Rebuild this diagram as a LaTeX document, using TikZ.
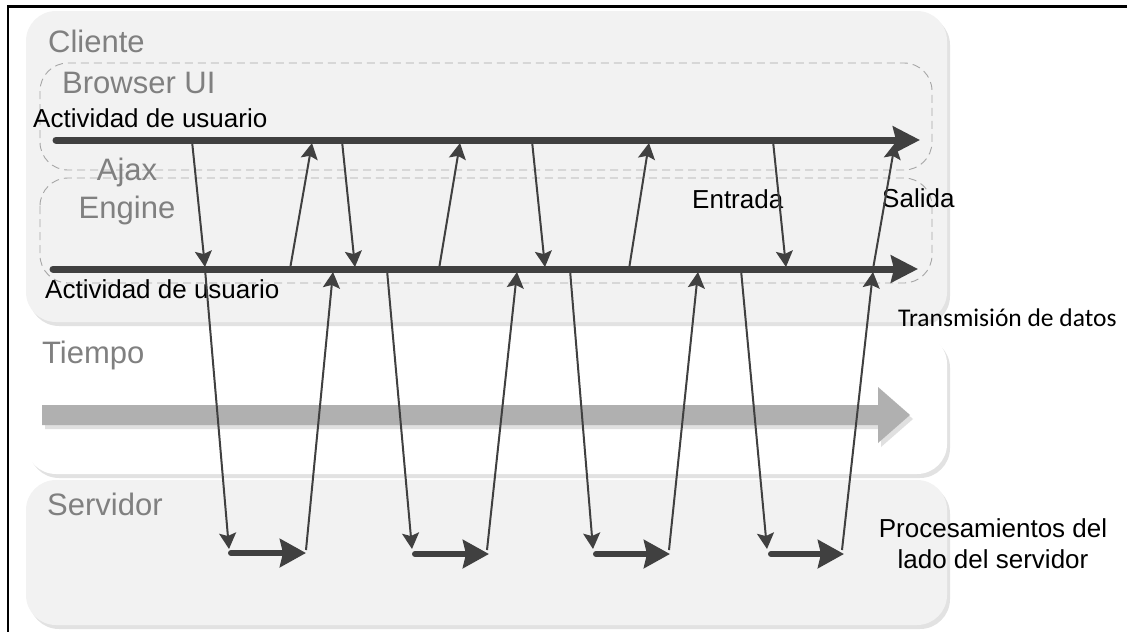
\documentclass[tikz,border=0pt]{standalone}
\usepackage{fontspec}
\setmainfont{Liberation Sans}
\newfontfamily\calibrifont{Carlito}
\usetikzlibrary{arrows.meta}
\definecolor{ink}{HTML}{404040}
\definecolor{panel}{HTML}{F2F2F2}
\definecolor{panelshadow}{HTML}{E2E2E2}
\definecolor{labelgray}{HTML}{808080}
\definecolor{dashgray}{HTML}{A6A6A6}
\definecolor{timegray}{HTML}{B0B0B0}
\definecolor{timeshadow}{HTML}{E0E0E0}

\begin{document}
\begin{tikzpicture}[x=1pt,y=-1pt,
  panelshade/.style={fill=panelshadow, rounded corners=30pt},
  panelbox/.style={fill=#1, rounded corners=30pt},
  layerbox/.style={draw=dashgray, line width=0.9pt, dash pattern=on 8pt off 5pt, rounded corners=28pt},
  grouplabel/.style={anchor=base west, inner sep=0pt, text=labelgray, font=\fontsize{31}{36}\selectfont},
  note/.style={inner sep=0pt, text=black, font=\fontsize{26}{30}\selectfont},
  flowline/.style={draw=ink, line width=7pt, line cap=round, -{Stealth[length=27pt,width=27pt,inset=3pt]}},
  msg/.style={draw=ink, line width=2pt, -{Stealth[length=16pt,width=17pt,inset=3pt]}},
  work/.style={draw=ink, line width=6pt, line cap=round, -{Stealth[length=26pt,width=28pt,inset=3pt]}}
]
\useasboundingbox (0,0) rectangle (1131,632);

% outer frame (top and left edges)
\draw[line width=2.5pt] (1127,6.5) -- (8,6.5) -- (8,632);

% swimlane panels with soft drop shadows
\path[panelshade] (29,15) rectangle (950,326);
\path[panelbox=panel] (26,11) rectangle (947,322);
\path[panelshade] (29,338) rectangle (950,478);
\path[panelbox=white] (26,334) rectangle (947,474);
\path[panelshade] (29,484) rectangle (950,629);
\path[panelbox=panel] (26,480) rectangle (947,625);

% client layers
\path[layerbox] (40,63) rectangle (932,170);
\path[layerbox] (40,178) rectangle (932,283);

% lane titles
\node[grouplabel] (cliente) at (48,52) {Cliente};
\node[grouplabel] (browser) at (62,93) {Browser UI};
\node[grouplabel, anchor=base] (ajax) at (127,180) {Ajax};
\node[grouplabel, anchor=base] (engine) at (127,218) {Engine};
\node[grouplabel] (tiempo) at (42,363) {Tiempo};
\node[grouplabel] (servidor) at (47,515) {Servidor};

% annotations
\node[note, anchor=base west] (actA) at (33,127) {Actividad de usuario};
\node[note, anchor=base west] (actB) at (45,298) {Actividad de usuario};
\node[note, anchor=base west] (entrada) at (692,208) {Entrada};
\node[note, anchor=base west] (salida) at (882,207) {Salida};
\node[inner sep=0pt, anchor=base west, font=\calibrifont\fontsize{25.5}{30}\selectfont] (trans) at (898,326) {Transmisión de datos};
\node[note, anchor=base] (proc1) at (993,537) {Procesamientos del};
\node[note, anchor=base] (proc2) at (993,568) {lado del servidor};

% time axis
\fill[timeshadow] (45,409) -- (881,409) -- (881,391) -- (913,419) -- (881,447) -- (881,429) -- (45,429) -- cycle;
\fill[timegray] (42,405) -- (878,405) -- (878,387) -- (910,415) -- (878,443) -- (878,425) -- (42,425) -- cycle;

% timelines of the two client layers
\coordinate (uiS) at (56,140);
\coordinate (uiE) at (920,140);
\coordinate (ajS) at (53,269);
\coordinate (ajE) at (918,269);
\draw[flowline] (uiS) -- (uiE);
\draw[flowline] (ajS) -- (ajE);

% UI -> engine
\coordinate (d1a) at (192,141); \coordinate (d1b) at (205,267);
\coordinate (d2a) at (342,141); \coordinate (d2b) at (355,267);
\coordinate (d3a) at (532,141); \coordinate (d3b) at (545,267);
\coordinate (d4a) at (773,141); \coordinate (d4b) at (786,267);
\draw[msg] (d1a) -- (d1b);
\draw[msg] (d2a) -- (d2b);
\draw[msg] (d3a) -- (d3b);
\draw[msg] (d4a) -- (d4b);

% engine -> UI
\coordinate (u1a) at (290,269); \coordinate (u1b) at (312,143);
\coordinate (u2a) at (439,269); \coordinate (u2b) at (460,143);
\coordinate (u3a) at (629,269); \coordinate (u3b) at (649,143);
\coordinate (u4a) at (873,269); \coordinate (u4b) at (895,143);
\draw[msg] (u1a) -- (u1b);
\draw[msg] (u2a) -- (u2b);
\draw[msg] (u3a) -- (u3b);
\draw[msg] (u4a) -- (u4b);

% engine -> server requests
\coordinate (s1a) at (205,269); \coordinate (s1b) at (229,549);
\coordinate (s2a) at (387,270); \coordinate (s2b) at (412,549);
\coordinate (s3a) at (570,270); \coordinate (s3b) at (593,549);
\coordinate (s4a) at (741,270); \coordinate (s4b) at (767,549);
\draw[msg] (s1a) -- (s1b);
\draw[msg] (s2a) -- (s2b);
\draw[msg] (s3a) -- (s3b);
\draw[msg] (s4a) -- (s4b);

% server-side processing
\coordinate (p1a) at (231,553); \coordinate (p1b) at (306,553);
\coordinate (p2a) at (415,554); \coordinate (p2b) at (489,554);
\coordinate (p3a) at (596,554); \coordinate (p3b) at (670,554);
\coordinate (p4a) at (771,554); \coordinate (p4b) at (844,554);
\draw[work] (p1a) -- (p1b);
\draw[work] (p2a) -- (p2b);
\draw[work] (p3a) -- (p3b);
\draw[work] (p4a) -- (p4b);

% server -> engine responses
\coordinate (r1a) at (306,550); \coordinate (r1b) at (333,272);
\coordinate (r2a) at (487,550); \coordinate (r2b) at (517,272);
\coordinate (r3a) at (669,550); \coordinate (r3b) at (698,272);
\coordinate (r4a) at (842,550); \coordinate (r4b) at (873,272);
\draw[msg] (r1a) -- (r1b);
\draw[msg] (r2a) -- (r2b);
\draw[msg] (r3a) -- (r3b);
\draw[msg] (r4a) -- (r4b);
\end{tikzpicture}
\end{document}
